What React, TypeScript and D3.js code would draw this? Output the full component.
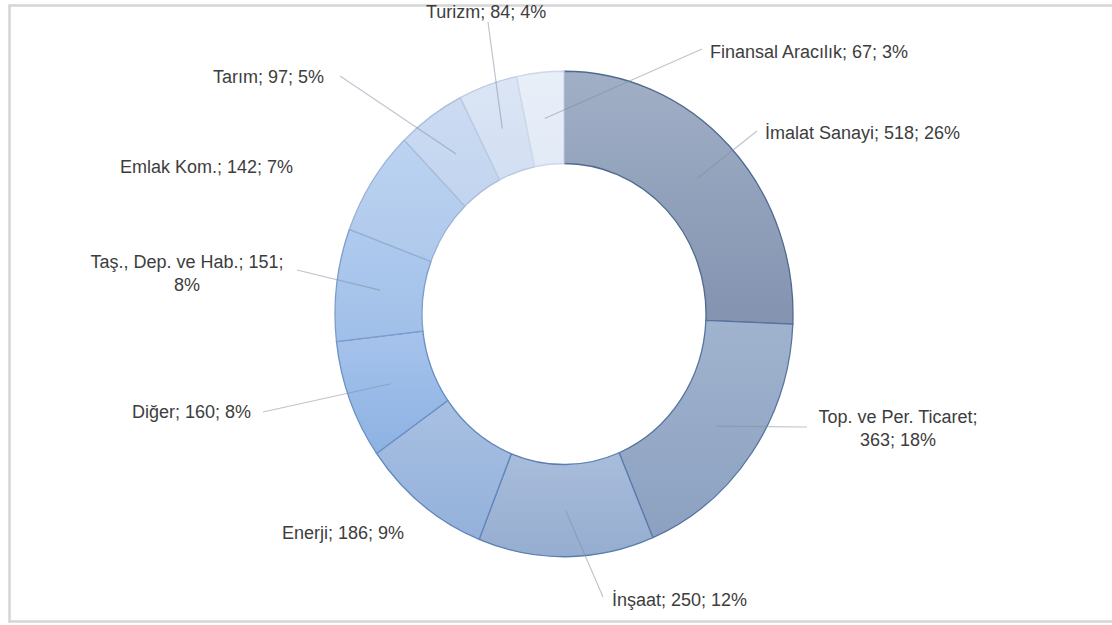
import React from "react";
import * as d3 from "d3";

// ---- data ----
const categories = [
  "İmalat Sanayi",
  "Top. ve Per. Ticaret",
  "İnşaat",
  "Enerji",
  "Diğer",
  "Taş., Dep. ve Hab.",
  "Emlak Kom.",
  "Tarım",
  "Turizm",
  "Finansal Aracılık",
];
const values = [518, 363, 250, 186, 160, 151, 142, 97, 84, 67];
const percents = [26, 18, 12, 9, 8, 8, 7, 5, 4, 3];

// ---- styles ----
const fillTop = ["#a1afc6", "#a0b3ce", "#a9bddb", "#a8c0e2", "#a6c3ec", "#afcaee", "#bcd3f1", "#ccdbf2", "#dbe5f5", "#e9eff9"];
const fillBottom = ["#8393b0", "#8ca1c1", "#95add0", "#93b1db", "#8db2e3", "#a0bfe8", "#afc9ec", "#c1d4ef", "#d2dff2", "#e2eaf6"];
const strokes = ["#4f6a8e", "#56749e", "#5c7eaf", "#6186bb", "#6a8fc4", "#7c9dcc", "#97b1d6", "#a8bddb", "#bccbe2", "#cdd8ea"];

// ---- layout (label anchors, leader ends) ----
const labelLayout = [
  { x: 765, y: 133, anchor: "start", wrap: 0, lead: [757, 131] },
  { x: 898, y: 417, anchor: "middle", wrap: 1, lead: [807, 427] },
  { x: 612, y: 600, anchor: "start", wrap: 0, lead: [603, 597] },
  { x: 282, y: 533, anchor: "start", wrap: 0, lead: null },
  { x: 132, y: 412, anchor: "start", wrap: 0, lead: [263, 412] },
  { x: 187, y: 262, anchor: "middle", wrap: 2, lead: [297, 270] },
  { x: 120, y: 167, anchor: "start", wrap: 0, lead: null },
  { x: 213, y: 77, anchor: "start", wrap: 0, lead: [340, 76] },
  { x: 426, y: 12, anchor: "start", wrap: 0, lead: [488, 22] },
  { x: 710, y: 52, anchor: "start", wrap: 0, lead: [702, 49] },
];

const W = 1112;
const H = 625;
const cx = 564;
const cy = 314;
const rOuter = 229;
const rInner = 142;
const yScale = 1.06;
const fontSize = 18;
const lineH = 23;

export default function App() {
  const pie = d3.pie<number>().sort(null).value((d) => d)(values);
  const arc = d3.arc<d3.PieArcDatum<number>>().innerRadius(rInner).outerRadius(rOuter);
  const mid = (rInner + rOuter) / 2;
  const midArc = d3.arc<d3.PieArcDatum<number>>().innerRadius(mid).outerRadius(mid);

  const labelLines = (i: number): string[] => {
    const parts = [categories[i] + ";", values[i] + ";", percents[i] + "%"];
    const w = labelLayout[i].wrap;
    if (w === 0) return [parts.join(" ")];
    return [parts.slice(0, w).join(" "), parts.slice(w).join(" ")];
  };

  return (
    <svg
      width={W}
      height={H}
      style={{ position: "absolute", left: 0, top: 0, background: "#fff" }}
      fontFamily="'Liberation Sans', Arial, sans-serif"
    >
      <defs>
        {values.map((_, i) => (
          <linearGradient key={i} id={`g${i}`} x1="0" y1="0" x2="0" y2="1">
            <stop offset="0%" stopColor={fillTop[i]} />
            <stop offset="100%" stopColor={fillBottom[i]} />
          </linearGradient>
        ))}
      </defs>
      <rect x={9.5} y={5.5} width={1110} height={616} fill="#fff" stroke="#d5d5d5" strokeWidth={2.5} />
      <g transform={`translate(${cx},${cy}) scale(1,${yScale})`}>
        {pie.map((d, i) => (
          <path
            key={i}
            d={arc(d) || ""}
            fill={`url(#g${i})`}
            stroke={strokes[i]}
            strokeWidth={1.3}
            vectorEffect="non-scaling-stroke"
          />
        ))}
      </g>
      {pie.map((d, i) => {
        const L = labelLayout[i];
        if (!L.lead) return null;
        const c = midArc.centroid(d);
        return (
          <line
            key={i}
            x1={cx + c[0]}
            y1={cy + c[1] * yScale}
            x2={L.lead[0]}
            y2={L.lead[1]}
            stroke="rgb(128,140,160)"
            strokeOpacity={0.5}
            strokeWidth={1.2}
          />
        );
      })}
      {labelLayout.map((L, i) => (
        <text key={i} x={L.x} y={L.y} fontSize={fontSize} fill="#3d3d3d" textAnchor={L.anchor}>
          {labelLines(i).map((t, k) => (
            <tspan key={k} x={L.x} dy={k === 0 ? 6.4 : lineH}>
              {t}
            </tspan>
          ))}
        </text>
      ))}
    </svg>
  );
}
